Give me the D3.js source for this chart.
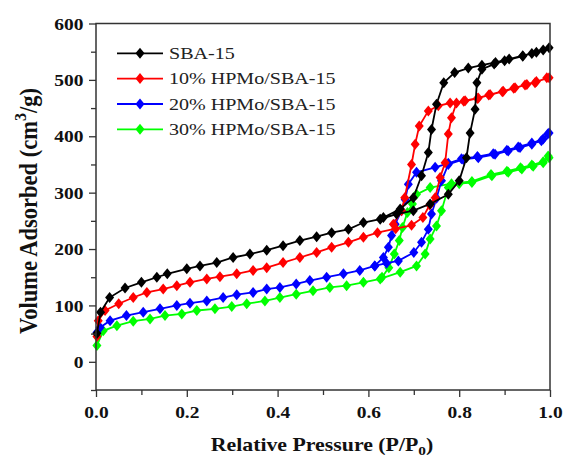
<!DOCTYPE html>
<html><head><meta charset="utf-8">
<script src="https://cdn.jsdelivr.net/npm/d3@7"></script>
<style>body{margin:0;background:#fff}svg{display:block}</style>
</head><body>
<svg id="chart" width="564" height="457"></svg>
<script>
// ---- data ----
const seriesNames = ["SBA-15", "10% HPMo/SBA-15", "20% HPMo/SBA-15", "30% HPMo/SBA-15"];
const seriesColors = ["#000000", "#ff0000", "#0000ff", "#00ff00"];
const xTickValues = [0, 0.2, 0.4, 0.6, 0.8, 1.0];
const xMinorTicks = [0.1, 0.3, 0.5, 0.7, 0.9];
const yTickValues = [0, 100, 200, 300, 400, 500, 600];
const yMinorTicks = [-50, 50, 150, 250, 350, 450, 550];

// adsorption / desorption branches [P/P0, volume]
const sbaAds = [[0.002,50],[0.01,88],[0.03,114],[0.064,131],[0.1,141],[0.134,150],[0.157,156],[0.2,165],[0.229,170],[0.266,176],[0.302,185],[0.339,191],[0.376,198],[0.412,206],[0.449,215],[0.486,222],[0.519,229],[0.556,235],[0.589,247],[0.626,253],[0.662,262],[0.699,268],[0.736,280],[0.776,297],[0.80,321],[0.816,362],[0.824,406],[0.835,448],[0.839,495],[0.85,519],[0.877,528],[0.9,534],[0.94,542],[0.96,547],[0.985,553]];
const sbaDes = [[0.998,557],[0.97,549],[0.94,543],[0.91,537],[0.88,531],[0.85,526],[0.82,521],[0.79,513],[0.766,495],[0.75,457],[0.739,412],[0.732,371],[0.717,330],[0.699,291],[0.67,271],[0.633,256]];

const h10Ads = [[0.002,45],[0.005,73],[0.02,91],[0.05,103],[0.082,114],[0.112,123],[0.148,129],[0.178,135],[0.207,141],[0.244,147],[0.273,151],[0.31,156],[0.346,162],[0.376,167],[0.412,176],[0.449,185],[0.486,194],[0.519,203],[0.556,212],[0.589,221],[0.62,229],[0.66,236],[0.695,242],[0.72,256],[0.735,278],[0.747,291],[0.758,327],[0.769,353],[0.776,404],[0.783,433],[0.794,459],[0.813,463],[0.842,468],[0.868,474],[0.897,480],[0.923,486],[0.949,492],[0.967,495],[0.993,504]];
const h10Des = [[0.998,504],[0.97,497],[0.945,491],[0.92,485],[0.895,479],[0.865,473],[0.84,467],[0.81,462],[0.78,459],[0.754,454],[0.732,445],[0.712,418],[0.703,386],[0.695,350],[0.68,291],[0.673,268],[0.655,244]];

const h20Ads = [[0.002,52],[0.009,61],[0.031,73],[0.067,82],[0.104,88],[0.141,94],[0.178,100],[0.207,104],[0.244,108],[0.28,114],[0.31,119],[0.346,123],[0.376,129],[0.405,132],[0.441,138],[0.471,144],[0.508,150],[0.545,156],[0.581,162],[0.614,170],[0.64,175],[0.666,179],[0.70,194],[0.717,212],[0.732,235],[0.739,262],[0.75,290],[0.761,321],[0.776,350],[0.809,359],[0.842,362],[0.879,368],[0.908,374],[0.934,380],[0.96,386],[0.981,392],[0.995,404]];
const h20Des = [[0.998,406],[0.985,395],[0.96,388],[0.93,381],[0.905,375],[0.875,369],[0.84,364],[0.805,360],[0.776,352],[0.747,345],[0.706,336],[0.688,315],[0.681,288],[0.673,268],[0.659,244],[0.651,224],[0.644,203],[0.633,185],[0.614,170]];

const h30Ads = [[0.002,29],[0.016,55],[0.046,64],[0.082,72],[0.119,76],[0.152,82],[0.189,85],[0.222,91],[0.262,94],[0.299,98],[0.332,103],[0.372,108],[0.405,114],[0.441,120],[0.478,126],[0.515,132],[0.552,135],[0.589,141],[0.626,147],[0.67,159],[0.706,170],[0.725,191],[0.736,218],[0.75,241],[0.761,268],[0.776,309],[0.80,316],[0.828,318],[0.872,330],[0.908,336],[0.938,342],[0.963,347],[0.985,353],[0.996,365]];
const h30Des = [[0.998,362],[0.985,355],[0.96,349],[0.935,344],[0.905,338],[0.87,332],[0.828,320],[0.783,316],[0.736,309],[0.706,297],[0.697,280],[0.686,265],[0.675,238],[0.668,215],[0.657,191],[0.645,167],[0.63,150]];

const seriesData = [sbaAds.concat(sbaDes), h10Ads.concat(h10Des), h20Ads.concat(h20Des), h30Ads.concat(h30Des)];

// ---- layout ----
const svg = d3.select("#chart");
const L = 96, R = 550, T = 23.5, B = 390;
const x = d3.scaleLinear().domain([0, 1]).range([L, R]);
const y = d3.scaleLinear().domain([-50, 600]).range([B, T]);
const SX = 1.18;
const serif = "'Liberation Serif','Times New Roman',serif";

const diamond = { draw(ctx) { ctx.moveTo(0,-5.5); ctx.lineTo(4.5,0); ctx.lineTo(0,5.5); ctx.lineTo(-4.5,0); ctx.closePath(); } };
const sym = d3.symbol(diamond)();

// series (black drawn last)
const order = [3, 2, 1, 0];
const line = d3.line().x(d => x(d[0])).y(d => y(d[1]));
order.forEach(i => {
  const g = svg.append("g");
  g.append("path").attr("d", line(seriesData[i])).attr("fill", "none")
    .attr("stroke", seriesColors[i]).attr("stroke-width", 1.8);
  g.selectAll("path.m").data(seriesData[i]).enter().append("path").attr("class", "m")
    .attr("d", sym).attr("transform", d => `translate(${x(d[0])},${y(d[1])})`)
    .attr("fill", seriesColors[i]);
});

// axes
const axCol = "#333";
const xAxis = svg.append("g").attr("transform", `translate(0,${B})`)
  .call(d3.axisBottom(x).tickValues(xTickValues).tickSize(7).tickSizeOuter(0).tickFormat(d3.format(".1f")));
svg.append("g").attr("transform", `translate(0,${B})`)
  .call(d3.axisBottom(x).tickValues(xMinorTicks).tickSize(5).tickSizeOuter(0).tickFormat(""));
const yAxis = svg.append("g").attr("transform", `translate(${L},0)`)
  .call(d3.axisLeft(y).tickValues(yTickValues).tickSize(7).tickSizeOuter(0));
svg.append("g").attr("transform", `translate(${L},0)`)
  .call(d3.axisLeft(y).tickValues(yMinorTicks).tickSize(5).tickSizeOuter(0).tickFormat(""));
svg.selectAll(".domain").remove();
svg.selectAll(".tick line").attr("stroke", axCol).attr("stroke-width", 1.3);
xAxis.selectAll("text").attr("y", 16).attr("dy", "0.71em")
  .attr("font-family", serif).attr("font-weight", "bold").attr("font-size", 16.5).attr("fill", "#111")
  .attr("transform", `scale(${SX},1)`);
yAxis.selectAll("text").attr("x", -10.6).attr("dy", "0.34em")
  .attr("font-family", serif).attr("font-weight", "bold").attr("font-size", 16.5).attr("fill", "#111")
  .attr("transform", `scale(${SX},1)`);

// frame
svg.append("rect").attr("x", L).attr("y", T).attr("width", R - L).attr("height", B - T)
  .attr("fill", "none").attr("stroke", axCol).attr("stroke-width", 1.5);

// axis titles
const xt = svg.append("text").attr("transform", `translate(322,451) scale(${SX},1)`)
  .attr("text-anchor", "middle").attr("font-family", serif).attr("font-weight", "bold")
  .attr("font-size", 18.5).attr("fill", "#111");
xt.append("tspan").text("Relative Pressure (P/P");
xt.append("tspan").attr("font-size", 13).attr("dy", 4).text("0");
xt.append("tspan").attr("dy", -4).text(")");

const yt = svg.append("text").attr("transform", "translate(37,211) rotate(-90) scale(1,1.1)")
  .attr("text-anchor", "middle").attr("font-family", serif).attr("font-weight", "bold")
  .attr("font-size", 22.5).attr("fill", "#111");
yt.append("tspan").text("Volume Adsorbed (cm");
yt.append("tspan").attr("font-size", 16).attr("dy", -10).text("3");
yt.append("tspan").attr("dy", 10).text("/g)");

// legend
const legY = [53.3, 78.6, 104, 129.3];
seriesNames.forEach((name, i) => {
  const g = svg.append("g");
  g.append("line").attr("x1", 117).attr("x2", 163).attr("y1", legY[i]).attr("y2", legY[i])
    .attr("stroke", seriesColors[i]).attr("stroke-width", 1.8);
  g.append("path").attr("d", sym).attr("transform", `translate(140,${legY[i]})`).attr("fill", seriesColors[i]);
  g.append("text").attr("transform", `translate(169,${legY[i] + 5.5}) scale(${SX},1)`)
    .attr("font-family", serif).attr("font-size", 17).attr("fill", "#222").text(name);
});
</script>
</body></html>
